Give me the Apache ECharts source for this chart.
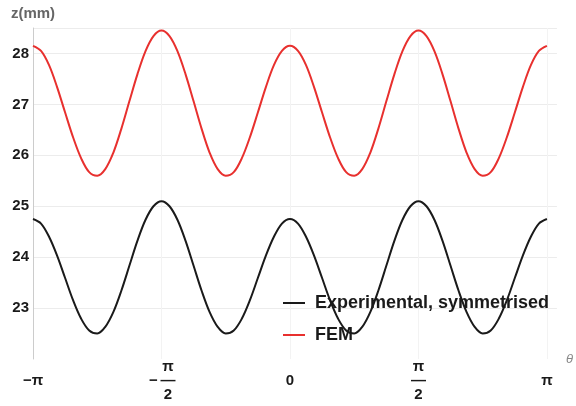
<!DOCTYPE html>
<html>
<head>
<meta charset="utf-8">
<script src="https://cdn.jsdelivr.net/npm/echarts@6/dist/echarts.min.js"></script>
<style>
  html, body { margin: 0; padding: 0; background: #fff; }
  #chart { width: 576px; height: 406px; }
</style>
</head>
<body>
<div id="chart"></div>
<script>
// theta in units of pi, sampled every pi/32
const theta = [-1, -0.96875, -0.9375, -0.90625, -0.875, -0.84375, -0.8125, -0.78125,
  -0.75, -0.71875, -0.6875, -0.65625, -0.625, -0.59375, -0.5625, -0.53125,
  -0.5, -0.46875, -0.4375, -0.40625, -0.375, -0.34375, -0.3125, -0.28125,
  -0.25, -0.21875, -0.1875, -0.15625, -0.125, -0.09375, -0.0625, -0.03125,
  0, 0.03125, 0.0625, 0.09375, 0.125, 0.15625, 0.1875, 0.21875,
  0.25, 0.28125, 0.3125, 0.34375, 0.375, 0.40625, 0.4375, 0.46875,
  0.5, 0.53125, 0.5625, 0.59375, 0.625, 0.65625, 0.6875, 0.71875,
  0.75, 0.78125, 0.8125, 0.84375, 0.875, 0.90625, 0.9375, 0.96875, 1];

const experimental = [24.75, 24.66, 24.40, 24.03, 23.59, 23.15, 22.79, 22.56,
  22.50, 22.63, 22.92, 23.34, 23.83, 24.32, 24.73, 25.00,
  25.10, 25.00, 24.73, 24.32, 23.83, 23.34, 22.92, 22.63,
  22.50, 22.56, 22.79, 23.15, 23.59, 24.03, 24.40, 24.66,
  24.75, 24.66, 24.40, 24.03, 23.59, 23.15, 22.79, 22.56,
  22.50, 22.63, 22.92, 23.34, 23.83, 24.32, 24.73, 25.00,
  25.10, 25.00, 24.73, 24.32, 23.83, 23.34, 22.92, 22.63,
  22.50, 22.56, 22.79, 23.15, 23.59, 24.03, 24.40, 24.66, 24.75];

const fem = [28.15, 28.05, 27.77, 27.34, 26.84, 26.35, 25.94, 25.67,
  25.60, 25.73, 26.05, 26.52, 27.06, 27.59, 28.04, 28.34,
  28.45, 28.34, 28.04, 27.59, 27.06, 26.52, 26.05, 25.73,
  25.60, 25.67, 25.94, 26.35, 26.84, 27.34, 27.77, 28.05,
  28.15, 28.05, 27.77, 27.34, 26.84, 26.35, 25.94, 25.67,
  25.60, 25.73, 26.05, 26.52, 27.06, 27.59, 28.04, 28.34,
  28.45, 28.34, 28.04, 27.59, 27.06, 26.52, 26.05, 25.73,
  25.60, 25.67, 25.94, 26.35, 26.84, 27.34, 27.77, 28.05, 28.15];

const xTickLabels = {
  '-1': '{t|−π}',
  '-0.5': '{s|}{t|π}\n{m|−}{t|—}\n{s|}{t|2}',
  '0': '{t|0}',
  '0.5': '{t|π}\n{t|—}\n{t|2}',
  '1': '{t|π}'
};
const yTickLabels = [23, 24, 25, 26, 27, 28];

const font = 'Liberation Sans, Arial, sans-serif';
const chart = echarts.init(document.getElementById('chart'));

const pair = (ys) => theta.map((t, i) => [t, ys[i]]);

chart.setOption({
  animation: false,
  textStyle: { fontFamily: font },
  grid: { left: 33, right: 18, top: 28, bottom: 47 },
  legend: {
    orient: 'vertical',
    left: 283,
    top: 294,
    padding: 0,
    z: 1,
    icon: 'rect',
    itemWidth: 22,
    itemHeight: 2,
    itemGap: 14,
    textStyle: { fontSize: 18, fontWeight: 'bold', color: '#1a1a1a', padding: [0, 0, 0, 5] },
    data: ['Experimental, symmetrised', 'FEM']
  },
  xAxis: {
    type: 'value',
    min: -1,
    max: 1.039,
    interval: 0.5,
    name: 'θ',
    nameLocation: 'end',
    nameGap: 9,
    nameTextStyle: { fontStyle: 'italic', color: '#888', fontSize: 13 },
    axisLine: { show: false },
    axisTick: { show: false },
    splitLine: { show: true, showMaxLine: false, lineStyle: { color: '#f3f3f3' } },
    axisLabel: {
      margin: 22,
      verticalAlign: 'middle',
      showMaxLabel: false,
      formatter: (v) => xTickLabels[String(v)] || '',
      rich: {
        t: { fontSize: 15, fontWeight: 'bold', color: '#1a1a1a', lineHeight: 14, width: 12, align: 'center', fontFamily: font },
        m: { fontSize: 15, fontWeight: 'bold', color: '#1a1a1a', lineHeight: 14, width: 13, align: 'left', fontFamily: font },
        s: { width: 13, lineHeight: 14 }
      }
    }
  },
  yAxis: {
    type: 'value',
    min: 22,
    max: 28.5,
    interval: 1,
    name: 'z(mm)',
    nameLocation: 'end',
    nameGap: 7,
    nameTextStyle: { fontSize: 15, fontWeight: 'bold', color: '#666', align: 'center' },
    axisLine: { show: true, onZero: false, lineStyle: { color: '#cccccc', width: 1 } },
    axisTick: { show: false },
    splitLine: { show: true, showMinLine: false, lineStyle: { color: '#ececec' } },
    axisLabel: {
      margin: 4,
      fontSize: 15,
      fontWeight: 'bold',
      color: '#1a1a1a',
      showMinLabel: false,
      showMaxLabel: false,
      formatter: (v) => (yTickLabels.indexOf(v) >= 0 ? String(v) : '')
    }
  },
  series: [
    {
      name: 'Experimental, symmetrised',
      type: 'line',
      z: 3,
      smooth: 0.35,
      symbol: 'none',
      color: '#1a1a1a',
      lineStyle: { color: '#1a1a1a', width: 2 },
      data: pair(experimental)
    },
    {
      name: 'FEM',
      type: 'line',
      z: 3,
      smooth: 0.35,
      symbol: 'none',
      color: '#e8302e',
      lineStyle: { color: '#e8302e', width: 2 },
      data: pair(fem)
    }
  ]
});
</script>
</body>
</html>
